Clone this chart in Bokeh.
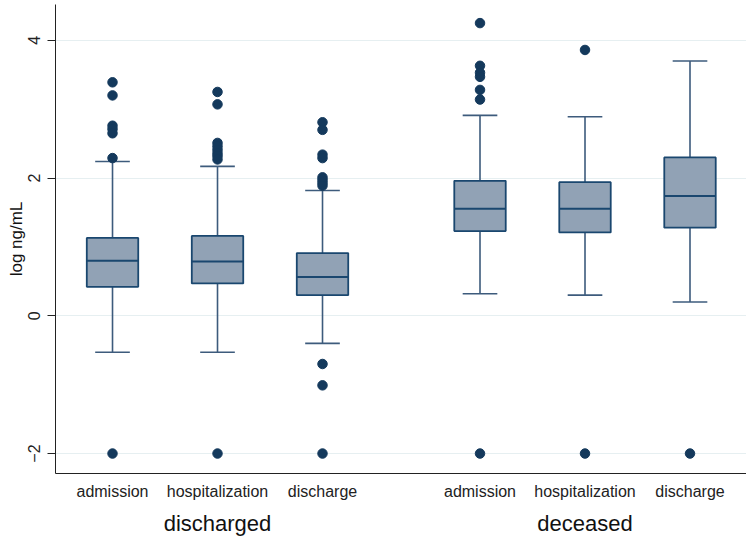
import math
from bokeh.plotting import figure
from bokeh.models import ColumnDataSource, FixedTicker, LinearAxis, Range1d
from bokeh.embed import file_html
from bokeh.resources import INLINE

# ---- data ----
groups = ["discharged", "deceased"]
categories = ["admission", "hospitalization", "discharge"]

q1 = [0.42, 0.47, 0.30, 1.23, 1.21, 1.28]
median = [0.80, 0.79, 0.565, 1.555, 1.555, 1.74]
q3 = [1.13, 1.16, 0.91, 1.96, 1.94, 2.30]
lower_whisker = [-0.53, -0.53, -0.40, 0.32, 0.30, 0.20]
upper_whisker = [2.24, 2.17, 1.82, 2.91, 2.89, 3.70]
outliers = [
    [3.39, 3.20, 2.76, 2.71, 2.65, 2.29, -2.0],
    [3.25, 3.07, 2.51, 2.46, 2.41, 2.36, 2.32, 2.27, -2.0],
    [2.81, 2.70, 2.34, 2.29, 2.01, 1.97, 1.93, 1.89, -0.70, -1.01, -2.0],
    [4.25, 3.63, 3.53, 3.47, 3.28, 3.14, -2.0],
    [3.86, -2.0],
    [-2.0],
]
y_ticks = [-2, 0, 2, 4]

# ---- layout of positions (group spacing) ----
xs = []
labels = []
for gi, g in enumerate(groups):
    for ci, c in enumerate(categories):
        xs.append(gi * 3.5 + ci)
        labels.append(c)
group_x = [gi * 3.5 + 1 for gi in range(len(groups))]

box_w = 0.49
cap_w = 0.33

src = ColumnDataSource(dict(
    x=xs, q1=q1, q3=q3, med=median, lo=lower_whisker, hi=upper_whisker,
    x0=[x - box_w / 2 for x in xs], x1=[x + box_w / 2 for x in xs],
    c0=[x - cap_w / 2 for x in xs], c1=[x + cap_w / 2 for x in xs],
))
ox, oy = [], []
for x, vals in zip(xs, outliers):
    for v in vals:
        ox.append(x)
        oy.append(v)
osrc = ColumnDataSource(dict(x=ox, y=oy))

FONT = "Liberation Sans"
box_fill = "#91a2b5"
box_line = "#1a476f"
whisk = "#3d5b7c"
dot = "#14395c"

W, H = 746, 538
p = figure(width=W, height=H, output_backend="svg", toolbar_location=None,
           x_range=Range1d(-0.543, (746 - 112) / 105.0), y_range=Range1d(-2.29, 4.52),
           min_border_left=55, min_border_right=0, min_border_top=4,
           min_border_bottom=H - 474)
p.outline_line_color = None
p.background_fill_color = "white"
p.border_fill_color = "white"

# whiskers
p.segment(x0="x", y0="q3", x1="x", y1="hi", source=src, line_color=whisk, line_width=1.6)
p.segment(x0="x", y0="q1", x1="x", y1="lo", source=src, line_color=whisk, line_width=1.6)
p.segment(x0="c0", y0="hi", x1="c1", y1="hi", source=src, line_color=whisk, line_width=1.6)
p.segment(x0="c0", y0="lo", x1="c1", y1="lo", source=src, line_color=whisk, line_width=1.6)
# boxes
p.quad(left="x0", right="x1", bottom="q1", top="q3", source=src,
       fill_color=box_fill, line_color=box_line, line_width=1.8)
p.segment(x0="x0", y0="med", x1="x1", y1="med", source=src, line_color=box_line, line_width=2)
# outliers
p.scatter(x="x", y="y", source=osrc, size=9.5, fill_color=dot, line_color=dot)

# grid
p.xgrid.visible = False
p.ygrid.ticker = FixedTicker(ticks=y_ticks)
p.ygrid.grid_line_color = "#e6eff1"
p.ygrid.grid_line_width = 1

# y axis
ya = p.yaxis[0]
ya.ticker = FixedTicker(ticks=y_ticks)
ya.major_label_orientation = "vertical"
ya.major_label_text_font = FONT
ya.major_label_text_font_size = "16px"
ya.major_label_text_color = "#222222"
ya.major_tick_out = 8
ya.major_tick_in = 0
ya.minor_tick_out = 0
ya.minor_tick_in = 0
ya.major_label_standoff = 7
ya.axis_label = "log ng/mL"
ya.axis_label_text_font = FONT
ya.axis_label_text_font_style = "normal"
ya.axis_label_text_font_size = "17px"
ya.axis_label_text_color = "#111111"
ya.axis_label_standoff = 0
ya.axis_line_color = "#222222"
ya.major_tick_line_color = "#222222"

# x axis (categories)
xa = p.xaxis[0]
xa.ticker = FixedTicker(ticks=xs)
xa.major_label_overrides = {x: l for x, l in zip(xs, labels)}
xa.major_label_text_font = FONT
xa.major_label_text_font_size = "16px"
xa.major_label_text_color = "#222222"
xa.major_tick_out = 0
xa.major_tick_in = 0
xa.minor_tick_out = 0
xa.minor_tick_in = 0
xa.major_label_standoff = 9
xa.axis_line_color = "#222222"

# group axis
ga = LinearAxis(ticker=FixedTicker(ticks=group_x),
                major_label_overrides={x: g for x, g in zip(group_x, groups)})
ga.major_label_text_font = FONT
ga.major_label_text_font_size = "22px"
ga.major_label_text_color = "#111111"
ga.major_tick_out = 0
ga.major_tick_in = 0
ga.minor_tick_out = 0
ga.minor_tick_in = 0
ga.axis_line_color = None
ga.major_label_standoff = 8
p.add_layout(ga, "below")

open("out.html", "w").write(file_html(p, INLINE))
